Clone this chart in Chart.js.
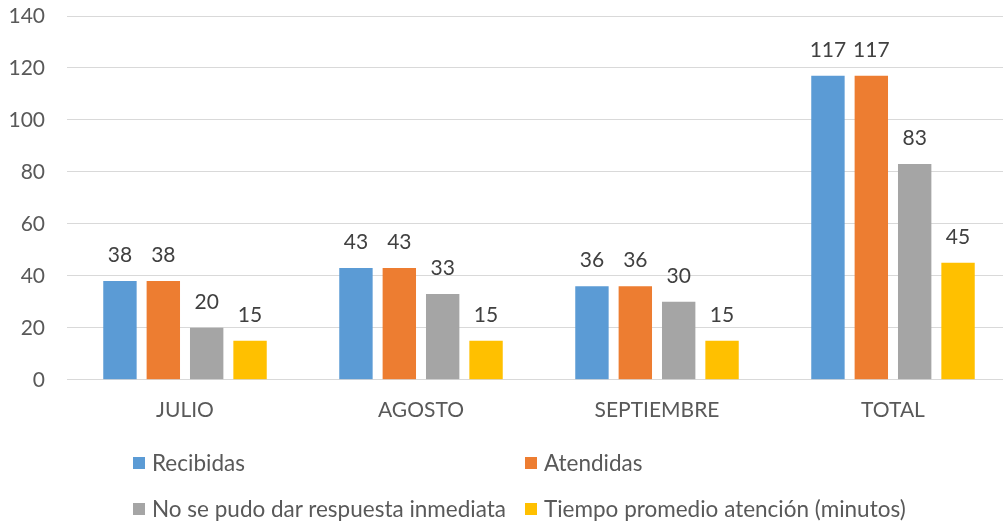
<!DOCTYPE html>
<html>
<head>
<meta charset="utf-8">
<script src="https://cdn.jsdelivr.net/npm/chart.js@4.4.0/dist/chart.umd.min.js"></script>
<style>
  html, body { margin: 0; padding: 0; background: #fff; overflow: hidden; }
  #wrap { position: relative; width: 1003px; height: 523px; overflow: hidden; }
  #legend { position: absolute; left: 0; top: 0; width: 1003px; height: 523px; pointer-events: none;
            font-family: Lato, "Open Sans", sans-serif; font-size: 22.5px; color: #595959; }
  .item { position: absolute; display: flex; align-items: center; white-space: nowrap; }
  .box { width: 12px; height: 12px; margin-right: 7px; }
</style>
</head>
<body>
<div id="wrap">
  <!-- the original plot runs a little past the right edge, so the canvas is wider and clipped -->
  <canvas id="chart" width="1011" height="523"></canvas>
  <div id="legend"></div>
</div>
<script>
// Categories and series
const months = ["JULIO", "AGOSTO", "SEPTIEMBRE", "TOTAL"];
const recibidas = [38, 43, 36, 117];
const atendidas = [38, 43, 36, 117];
const sinRespuesta = [20, 33, 30, 83];
const tiempoPromedio = [15, 15, 15, 45];
const seriesNames = ["Recibidas", "Atendidas", "No se pudo dar respuesta inmediata", "Tiempo promedio atención (minutos)"];
const yTicks = [0, 20, 40, 60, 80, 100, 120, 140];

const colors = ['#5B9BD5', '#ED7D31', '#A5A5A5', '#FFC000'];
const font = 'Lato, "Open Sans", sans-serif';

// value labels above each bar
const valueLabels = {
    id: 'valueLabels',
    afterDatasetsDraw(chart) {
        const ctx = chart.ctx;
        ctx.save();
        ctx.font = '21px ' + font;
        ctx.fillStyle = '#404040';
        ctx.textAlign = 'center';
        ctx.textBaseline = 'alphabetic';
        chart.data.datasets.forEach((ds, i) => {
            chart.getDatasetMeta(i).data.forEach((bar, j) => {
                ctx.fillText(ds.data[j], bar.x, bar.y - 19);
            });
        });
        ctx.restore();
    }
};

const allSeries = [recibidas, atendidas, sinRespuesta, tiempoPromedio];

new Chart(document.getElementById('chart'), {
    type: 'bar',
    data: {
        labels: months,
        datasets: allSeries.map((d, i) => ({
            label: seriesNames[i],
            data: d,
            backgroundColor: colors[i],
            categoryPercentage: 0.735,
            barPercentage: 0.77
        }))
    },
    options: {
        responsive: false,
        animation: false,
        layout: { padding: { left: 10, right: 0, top: 16, bottom: 82 } },
        plugins: {
            legend: { display: false },
            tooltip: { enabled: false }
        },
        scales: {
            x: {
                grid: { display: false, drawTicks: false },
                border: { display: true, color: '#d9d9d9', width: 1 },
                ticks: { color: '#595959', font: { family: font, size: 21 }, padding: 18 }
            },
            y: {
                min: 0,
                max: 140,
                afterBuildTicks: axis => { axis.ticks = yTicks.map(v => ({ value: v })); },
                afterFit: axis => { axis.width = 57; axis.paddingTop = 0; axis.paddingBottom = 0; },
                grid: { color: '#d9d9d9', drawTicks: false },
                border: { display: false },
                ticks: { color: '#595959', font: { family: font, size: 21 }, padding: 22 }
            }
        }
    },
    plugins: [valueLabels]
});

// legend in two columns, as in the original
const legendPos = [[133, 463], [525, 463], [133, 509], [525, 509]];
const legend = document.getElementById('legend');
seriesNames.forEach((name, i) => {
    const el = document.createElement('div');
    el.className = 'item';
    el.style.left = legendPos[i][0] + 'px';
    el.style.top = (legendPos[i][1] - 14) + 'px';
    el.innerHTML = '<span class="box" style="background:' + colors[i] + '"></span><span>' + name + '</span>';
    legend.appendChild(el);
});
</script>
</body>
</html>
